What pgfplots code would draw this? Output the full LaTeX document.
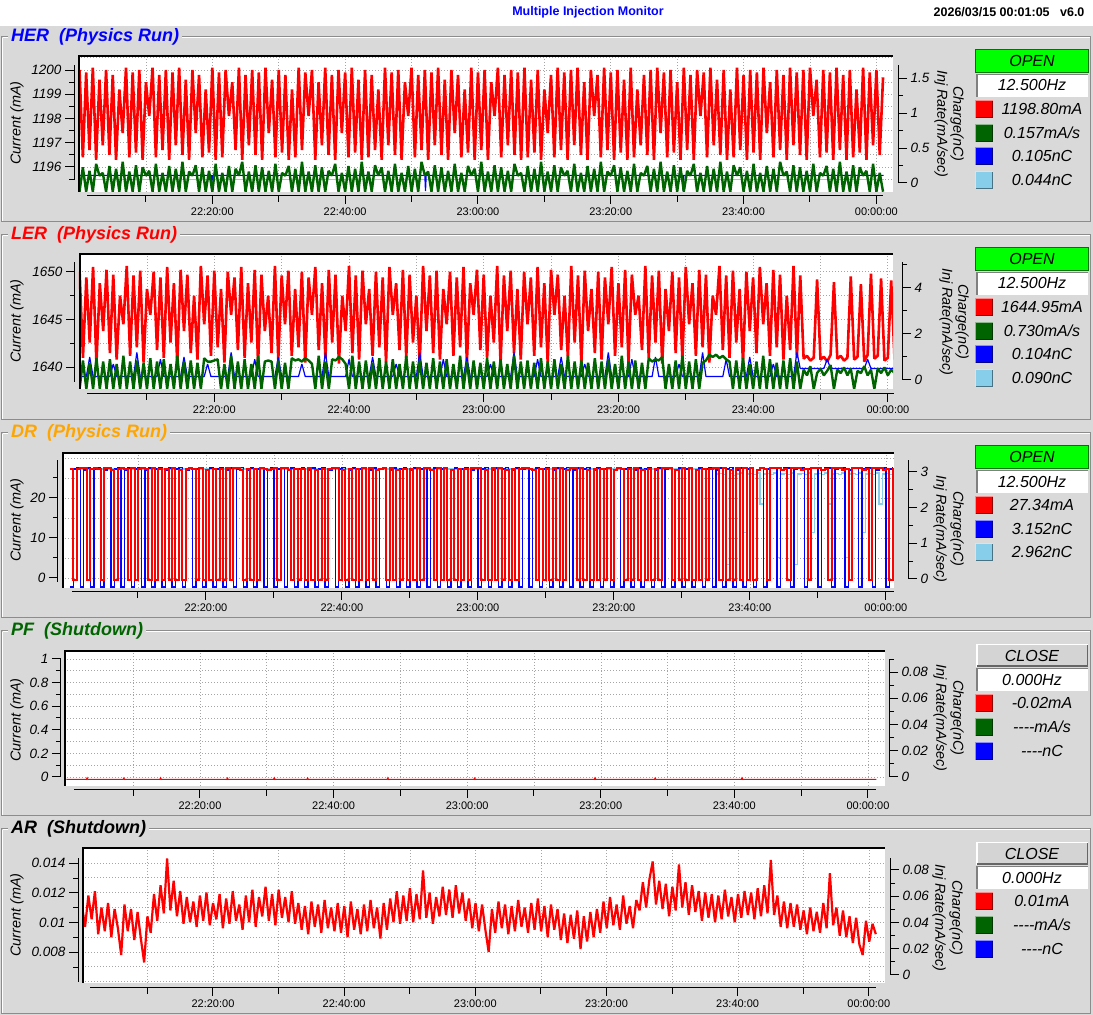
\documentclass[border=0pt]{standalone}
\usepackage{fontspec}
\setmainfont{Liberation Sans}
\usepackage{pgfplots}
\usepackage{pgfplotstable}
\pgfplotsset{compat=1.18}

\definecolor{bg}{RGB}{217,217,217}
\definecolor{dgreen}{RGB}{0,100,0}
\definecolor{lblue}{RGB}{135,206,235}
\definecolor{gridc}{RGB}{165,165,165}
\definecolor{edge}{RGB}{140,140,140}
\definecolor{openg}{RGB}{0,255,0}
\definecolor{closeg}{RGB}{212,212,212}
\definecolor{drorange}{RGB}{255,165,0}

\newcommand\tickf{\fontsize{13.5}{15}\selectfont\itshape}
\newcommand\xtickf{\fontsize{11}{12}\selectfont}
\newcommand\labf{\fontsize{14.4}{16}\selectfont\itshape}
\newcommand\titf{\fontsize{18}{20}\selectfont\bfseries\itshape}
\newcommand\statf{\fontsize{16}{18}\selectfont\itshape}
\newcommand\headf{\fontsize{12.5}{14}\selectfont\bfseries}

% t in minutes after 22:00
\pgfplotstableread{
t hR hG lR lG lB dR dB dL aR
0 1200 -0.13 1650 -0.39 0.15 27.3 -0.22 3.08 0.0112
0.5 1196.4 0.22 1641 0.85 0.15 -0.5 3.08 3.08 0.0097
1 1199.9 -0.13 1649.4 -0.39 0.15 27.2 3.12 3.08 0.0118
1.5 1196.7 0.17 1642.6 0.75 1.0 27.5 -0.22 3.08 0.0102
2 1200.1 -0.13 1650.5 -0.39 0.15 27.4 3.05 3.08 0.0121
2.5 1196.3 0.27 1640.4 0.95 0.15 -0.5 3.1 3.08 0.0092
3 1199.6 0.1 1648.8 -0.39 0.15 27.3 -0.22 3.08 0.0110
3.5 1196.9 0.14 1643.8 0.8 0.15 27.6 3.08 3.08 0.0094
4 1200 -0.13 1650.2 -0.39 0.15 27.2 3.12 3.08 0.0113
4.5 1196.5 0.24 1641.5 0.9 0.15 -0.5 -0.22 3.08 0.0090
5 1199.8 -0.13 1649.7 -0.39 0.7 27.5 3.05 3.08 0.0109
5.5 1196.3 0.2 1640.8 0.7 0.15 27.4 3.1 3.08 0.0096
6 1199.2 -0.13 1647.5 -0.39 0.15 27.1 -0.22 3.08 0.0078
6.5 1197.4 0.3 1644.5 1.05 0.15 -0.5 3.08 3.08 0.0112
7 1200.1 -0.13 1650.6 -0.39 0.15 27.3 3.12 3.08 0.0094
7.5 1196.4 0.16 1641.2 0.8 0.15 27.6 -0.22 3.08 0.0109
8 1199.9 -0.13 1649.6 -0.39 0.15 27.2 3.05 3.08 0.0088
8.5 1196.6 0.25 1642.1 0.85 1.2 -0.5 3.1 3.08 0.0107
9 1200 -0.13 1650.1 -0.39 0.15 27.5 -0.22 3.08 0.0089
9.5 1196.3 0.22 1640.5 0.75 0.15 -0.5 3.08 3.08 0.0073
10 1199.5 0.1 1648.2 -0.39 0.15 27.3 3.12 3.08 0.0104
10.5 1198.1 0.17 1645.5 0.95 0.15 27.4 -0.22 3.08 0.0093
11 1200.1 -0.13 1650 -0.39 0.15 27.2 3.05 3.08 0.0119
11.5 1196.4 0.27 1641.8 0.8 0.15 -0.5 3.1 3.08 0.0101
12 1199.8 -0.13 1649.4 -0.39 0.9 27.4 -0.22 3.08 0.0125
12.5 1196.7 0.14 1641 0.9 0.15 -0.5 3.08 3.08 0.0106
13 1200 -0.13 1650.5 -0.39 0.15 27.3 3.12 3.08 0.0143
13.5 1196.3 0.24 1642.6 0.7 0.15 -0.5 -0.22 3.08 0.0108
14 1199.9 -0.13 1648.8 -0.39 0.15 27.2 3.05 3.08 0.0128
14.5 1196.9 0.2 1640.4 1.05 0.15 -0.5 3.1 3.08 0.0104
15 1200.1 -0.13 1650.2 -0.39 0.15 27.5 -0.22 3.08 0.0121
15.5 1196.5 0.3 1643.8 0.8 1.0 -0.5 3.08 3.08 0.0099
16 1199.6 -0.13 1649.7 -0.39 0.15 27.1 3.12 3.08 0.0117
16.5 1196.3 0.16 1641.5 0.85 0.15 -0.5 -0.22 3.08 0.0100
17 1200 0.1 1647.5 -0.39 0.15 27.3 3.05 3.08 0.0114
17.5 1197.4 0.25 1640.8 0.75 0.15 27.4 3.1 3.08 0.0097
18 1199.8 -0.13 1650.6 -0.39 0.15 27.2 -0.22 3.08 0.0118
18.5 1196.4 0.22 1644.5 0.95 0.15 -0.5 3.08 3.08 0.0101
19 1199.2 -0.13 1649.6 0.8 0.7 27.5 3.12 3.08 0.0120
19.5 1196.6 0.17 1641.2 0.8 0.15 -0.5 -0.22 3.08 0.0098
20 1200.1 -0.13 1650.1 0.85 0.15 27.1 3.05 3.08 0.0113
20.5 1196.3 0.27 1642.1 0.9 0.15 -0.5 3.1 3.08 0.0102
21 1199.9 -0.13 1648.2 -0.39 0.15 27.3 -0.22 3.08 0.0119
21.5 1196.4 0.14 1640.5 0.7 0.15 -0.5 3.08 3.08 0.0096
22 1200 -0.13 1650 -0.39 0.15 27.2 3.12 3.08 0.0116
22.5 1198.1 0.24 1645.5 1.05 1.2 -0.5 -0.22 3.08 0.0099
23 1199.5 -0.13 1649.4 -0.39 0.15 27.5 3.05 3.08 0.0121
23.5 1196.7 0.2 1641.8 0.8 0.15 -0.5 3.1 3.08 0.0101
24 1200.1 0.1 1650.5 -0.39 0.15 27.4 -0.22 3.08 0.0112
24.5 1196.3 0.3 1641 0.9 0.15 27.4 3.08 3.08 0.0095
25 1199.8 -0.13 1648.8 -0.39 0.15 27.1 3.12 3.08 0.0118
25.5 1196.9 0.16 1642.6 0.7 0.15 -0.5 -0.22 3.08 0.0100
26 1200 -0.13 1650.2 -0.39 0.9 27.3 3.05 3.08 0.0122
26.5 1196.5 0.25 1640.4 1.05 0.15 -0.5 3.1 3.08 0.0097
27 1199.9 -0.13 1649.7 -0.39 0.15 27.2 -0.22 3.08 0.0117
27.5 1196.3 0.22 1643.8 0.8 0.15 -0.5 3.08 3.08 0.0104
28 1200.1 -0.13 1647.5 0.85 0.15 27.4 3.12 3.08 0.0124
28.5 1197.4 0.17 1641.5 0.8 0.15 27.3 -0.22 3.08 0.0101
29 1199.6 -0.13 1650.6 -0.39 0.15 27.1 3.05 3.08 0.0119
29.5 1196.4 0.27 1640.8 0.85 1.0 27.3 3.1 3.08 0.0098
30 1200 -0.13 1649.6 -0.39 0.15 27.6 -0.22 3.08 0.0122
30.5 1196.6 0.14 1644.5 0.75 0.15 -0.5 3.08 3.08 0.0103
31 1199.8 0.1 1650.1 -0.39 0.15 27.5 3.12 3.08 0.0117
31.5 1196.3 0.24 1641.2 0.95 0.15 27.4 -0.22 3.08 0.0100
32 1199.2 -0.13 1648.2 0.85 0.15 27.1 3.05 3.08 0.0121
32.5 1196.4 0.2 1642.1 0.9 0.15 -0.5 3.1 3.08 0.0099
33 1200.1 -0.13 1650 0.8 0.7 27.3 -0.22 3.08 0.0113
33.5 1196.7 0.3 1640.5 0.95 0.15 -0.5 3.08 3.08 0.0095
34 1199.9 -0.13 1649.4 0.85 0.15 27.2 3.12 3.08 0.0111
34.5 1198.1 0.16 1645.5 0.7 0.15 -0.5 -0.22 3.08 0.0092
35 1200 -0.13 1650.5 -0.39 0.15 27.5 3.05 3.08 0.0114
35.5 1196.3 0.25 1641.8 1.05 0.15 -0.5 3.1 3.08 0.0097
36 1199.5 -0.13 1648.8 -0.39 0.15 27.1 -0.22 3.08 0.0112
36.5 1196.9 0.22 1641 0.8 1.2 -0.5 3.08 3.08 0.0093
37 1200.1 -0.13 1650.2 -0.39 0.15 27.3 3.12 3.08 0.0115
37.5 1196.5 0.17 1642.6 0.9 0.15 -0.5 -0.22 3.08 0.0096
38 1199.8 0.1 1649.7 0.85 0.15 27.2 3.05 3.08 0.0110
38.5 1196.3 0.27 1640.4 1.0 0.15 27.4 3.1 3.08 0.0094
39 1200 -0.13 1647.5 0.9 0.15 27.5 -0.22 3.08 0.0113
39.5 1197.4 0.14 1643.8 0.7 0.15 -0.5 3.08 3.08 0.0093
40 1199.9 -0.13 1650.6 -0.39 0.9 27.1 3.12 3.08 0.0111
40.5 1196.4 0.24 1641.5 1.05 0.15 -0.5 -0.22 3.08 0.0090
41 1200.1 -0.13 1649.6 -0.39 0.15 27.3 3.05 3.08 0.0114
41.5 1196.6 0.2 1640.8 0.8 0.15 -0.5 3.1 3.08 0.0095
42 1199.6 -0.13 1650.1 -0.39 0.15 27.2 -0.22 3.08 0.0109
42.5 1196.3 0.3 1644.5 0.85 0.15 -0.5 3.08 3.08 0.0092
43 1200 -0.13 1648.2 -0.39 0.15 27.5 3.12 3.08 0.0112
43.5 1196.4 0.16 1641.2 0.75 1.0 -0.5 -0.22 3.08 0.0094
44 1199.8 -0.13 1650 -0.39 0.15 27.4 3.05 3.08 0.0115
44.5 1196.7 0.25 1642.1 0.95 0.15 -0.5 3.1 3.08 0.0096
45 1199.2 0.1 1649.4 -0.39 0.15 27.1 -0.22 3.08 0.0110
45.5 1196.3 0.22 1640.5 0.8 0.15 27.3 3.08 3.08 0.0089
46 1200.1 -0.13 1650.5 -0.39 0.15 27.6 3.12 3.08 0.0113
46.5 1196.9 0.17 1645.5 0.9 0.15 -0.5 -0.22 3.08 0.0095
47 1199.9 -0.13 1648.8 -0.39 0.7 27.5 3.05 3.08 0.0116
47.5 1196.5 0.27 1641.8 0.7 0.15 -0.5 3.1 3.08 0.0100
48 1200 -0.13 1650.2 -0.39 0.15 27.1 -0.22 3.08 0.0121
48.5 1196.3 0.14 1641 1.05 0.15 -0.5 3.08 3.08 0.0099
49 1199.5 -0.13 1649.7 -0.39 0.15 27.3 3.12 3.08 0.0118
49.5 1198.1 0.24 1642.6 0.8 0.15 -0.5 -0.22 3.08 0.0101
50 1200.1 -0.13 1647.5 -0.39 0.15 27.2 3.05 3.08 0.0123
50.5 1196.4 0.2 1640.4 0.85 1.2 -0.5 3.1 3.08 0.0100
51 1199.8 -0.13 1650.6 -0.39 0.15 27.5 -0.22 3.08 0.0119
51.5 1196.7 0.3 1643.8 0.75 0.15 -0.5 3.08 3.08 0.0102
52 1200 0.1 1649.6 -0.39 0.15 27.4 3.12 3.08 0.0135
52.5 1196.3 0.16 1641.5 0.95 0.15 27.4 -0.22 3.08 0.0103
53 1199.9 -0.13 1650.1 -0.39 0.15 27.1 3.05 3.08 0.0120
53.5 1196.9 0.25 1640.8 0.8 0.15 -0.5 3.1 3.08 0.0099
54 1200.1 -0.13 1648.2 -0.39 0.9 27.6 -0.22 3.08 0.0117
54.5 1196.5 0.22 1644.5 0.9 0.15 -0.5 3.08 3.08 0.0104
55 1199.6 -0.13 1650 -0.39 0.15 27.5 3.12 3.08 0.0124
55.5 1196.3 0.17 1641.2 0.7 0.15 -0.5 -0.22 3.08 0.0105
56 1200 -0.13 1649.4 -0.39 0.15 27.1 3.05 3.08 0.0122
56.5 1197.4 0.27 1642.1 1.05 0.15 -0.5 3.1 3.08 0.0103
57 1199.8 -0.13 1650.5 -0.39 0.15 27.3 -0.22 3.08 0.0125
57.5 1196.4 0.14 1640.5 0.8 1.0 -0.5 3.08 3.08 0.0106
58 1199.2 -0.13 1648.8 -0.39 0.15 27.2 3.12 3.08 0.0120
58.5 1196.6 0.24 1645.5 0.85 0.15 -0.5 -0.22 3.08 0.0101
59 1200.1 0.1 1650.2 -0.39 0.15 27.5 3.05 3.08 0.0116
59.5 1196.3 0.2 1641.8 0.75 0.15 27.4 3.1 3.08 0.0096
60 1199.9 -0.13 1649.7 -0.39 0.15 27.4 -0.22 3.08 0.0113
60.5 1196.7 0.3 1641 0.95 0.15 -0.5 3.08 3.08 0.0094
61 1200 -0.13 1647.5 -0.39 0.7 27.1 3.12 3.08 0.0112
61.5 1196.3 0.16 1642.6 0.8 0.15 -0.5 -0.22 3.08 0.0095
62 1199.5 -0.13 1650.6 -0.39 0.15 27.6 3.05 3.08 0.0080
62.5 1198.1 0.25 1640.4 0.9 0.15 -0.5 3.1 3.08 0.0109
63 1200.1 -0.13 1649.6 -0.39 0.15 27.5 -0.22 3.08 0.0093
63.5 1196.4 0.22 1643.8 0.7 0.15 -0.5 3.08 3.08 0.0114
64 1199.8 -0.13 1650.1 -0.39 0.15 27.1 3.12 3.08 0.0096
64.5 1196.9 0.17 1641.5 1.05 1.2 -0.5 -0.22 3.08 0.0112
65 1200 -0.13 1648.2 -0.39 0.15 27.3 3.05 3.08 0.0092
65.5 1196.5 0.27 1640.8 0.8 0.15 -0.5 3.1 3.08 0.0111
66 1199.9 0.1 1650 -0.39 0.15 27.2 -0.22 3.08 0.0094
66.5 1196.3 0.14 1644.5 0.85 0.15 27.4 3.08 3.08 0.0115
67 1200.1 -0.13 1649.4 -0.39 0.15 27.5 3.12 3.08 0.0097
67.5 1196.4 0.24 1641.2 0.75 0.15 27.3 -0.22 3.08 0.0110
68 1199.6 -0.13 1650.5 -0.39 0.9 27.1 3.05 3.08 0.0093
68.5 1196.6 0.2 1642.1 0.95 0.15 -0.5 3.1 3.08 0.0113
69 1200 -0.13 1648.8 -0.39 0.15 27.3 -0.22 3.08 0.0095
69.5 1196.3 0.3 1640.5 0.8 0.15 -0.5 3.08 3.08 0.0116
70 1199.2 -0.13 1650.2 -0.39 0.15 27.2 3.12 3.08 0.0094
70.5 1197.4 0.16 1645.5 0.9 0.15 -0.5 -0.22 3.08 0.0111
71 1199.8 -0.13 1649.7 -0.39 0.15 27.5 3.05 3.08 0.0090
71.5 1196.4 0.25 1641.8 0.7 1.0 -0.5 3.1 3.08 0.0112
72 1200.1 -0.13 1647.5 -0.39 0.15 27.4 -0.22 3.08 0.0095
72.5 1196.7 0.22 1641 1.05 0.15 -0.5 3.08 3.08 0.0109
73 1199.9 0.1 1650.6 -0.39 0.15 27.1 3.12 3.08 0.0088
73.5 1196.3 0.17 1642.6 0.8 0.15 27.4 -0.22 3.08 0.0106
74 1200 -0.13 1649.6 -0.39 0.15 27.6 3.05 3.08 0.0086
74.5 1196.9 0.27 1640.4 0.85 0.15 -0.5 3.1 3.08 0.0105
75 1200.1 -0.13 1650.1 -0.39 0.7 27.5 -0.22 3.08 0.0089
75.5 1196.5 0.14 1643.8 0.75 0.15 -0.5 3.08 3.08 0.0108
76 1199.5 -0.13 1648.2 -0.39 0.15 27.1 3.12 3.08 0.0082
76.5 1196.3 0.24 1641.5 0.95 0.15 -0.5 -0.22 3.08 0.0104
77 1200 -0.13 1650 -0.39 0.15 27.3 3.05 3.08 0.0087
77.5 1198.1 0.2 1640.8 0.8 0.15 -0.5 3.1 3.08 0.0107
78 1199.8 -0.13 1649.4 -0.39 0.15 27.2 -0.22 3.08 0.0090
78.5 1196.4 0.3 1644.5 0.9 1.2 -0.5 3.08 3.08 0.0109
79 1200.1 -0.13 1650.5 -0.39 0.15 27.5 3.12 3.08 0.0093
79.5 1196.7 0.16 1641.2 0.7 0.15 -0.5 -0.22 3.08 0.0114
80 1199.9 0.1 1648.8 -0.39 0.15 27.1 3.05 3.08 0.0096
80.5 1196.3 0.25 1642.1 1.05 0.15 27.4 3.1 3.08 0.0117
81 1200 -0.13 1650.2 -0.39 0.15 27.3 -0.22 3.08 0.0098
81.5 1196.6 0.22 1640.5 0.8 0.15 -0.5 3.08 3.08 0.0112
82 1199.6 -0.13 1649.7 -0.39 0.9 27.2 3.12 3.08 0.0095
82.5 1196.3 0.17 1645.5 0.85 0.15 -0.5 -0.22 3.08 0.0118
83 1200.1 -0.13 1647.5 -0.39 0.15 27.5 3.05 3.08 0.0099
83.5 1196.4 0.27 1641.8 0.75 0.15 -0.5 3.1 3.08 0.0111
84 1199.2 -0.13 1650.6 -0.39 0.15 27.1 -0.22 3.08 0.0096
84.5 1196.9 0.14 1641 0.95 0.15 -0.5 3.08 3.08 0.0115
85 1199.8 0.1 1649.6 0.8 0.15 27.3 3.12 3.08 0.0108
85.5 1196.5 0.24 1642.6 0.9 1.0 -0.5 -0.22 3.08 0.0127
86 1200 -0.13 1650.1 0.85 0.15 27.2 3.05 3.08 0.0110
86.5 1196.3 0.2 1640.4 1.0 0.15 -0.5 3.1 3.08 0.0129
87 1200.1 -0.13 1648.2 -0.39 0.15 27.5 -0.22 3.08 0.0141
87.5 1197.4 0.3 1643.8 0.7 0.15 27.4 3.08 3.08 0.0112
88 1199.9 -0.13 1650 -0.39 0.15 27.4 3.12 3.08 0.0128
88.5 1196.4 0.16 1641.5 0.85 0.15 -0.5 -0.22 3.08 0.0109
89 1200 -0.13 1649.4 -0.39 0.7 27.1 3.05 3.08 0.0126
89.5 1196.6 0.25 1640.8 1.05 0.15 -0.5 3.1 3.08 0.0104
90 1199.5 -0.13 1650.5 -0.39 0.15 27.6 -0.22 3.08 0.0124
90.5 1196.3 0.22 1644.5 0.8 0.15 -0.5 3.08 3.08 0.0108
91 1200.1 -0.13 1648.8 -0.39 0.15 27.5 3.12 3.08 0.0139
91.5 1196.7 0.17 1641.2 0.9 0.15 -0.5 -0.22 3.08 0.0110
92 1199.8 0.1 1650.2 -0.39 0.15 27.1 3.05 3.08 0.0127
92.5 1196.3 0.27 1642.1 0.75 1.2 -0.5 3.1 3.08 0.0105
93 1200 -0.13 1649.7 0.85 0.15 27.3 -0.22 3.08 0.0125
93.5 1198.1 0.14 1640.5 1.1 0.15 -0.5 3.08 3.08 0.0107
94 1199.9 -0.13 1647.5 1.0 0.15 27.2 3.12 3.08 0.0121
94.5 1196.4 0.24 1645.5 1.1 0.15 27.4 -0.22 3.08 0.0101
95 1200.1 -0.13 1650.6 0.95 0.15 27.5 3.05 2.93 0.0120
95.5 1196.9 0.2 1641.8 1.05 0.15 -0.5 3.1 2.95 0.0103
96 1199.6 -0.13 1649.6 0.9 0.9 27.4 -0.22 2.92 0.0119
96.5 1196.5 0.3 1641 0.8 0.15 -0.5 3.08 0.4 0.0100
97 1200 -0.13 1650.1 -0.39 0.15 27.1 3.12 2.95 0.0118
97.5 1196.3 0.16 1642.6 0.85 0.15 -0.5 -0.22 2.9 0.0102
98 1199.2 -0.13 1648.2 -0.39 0.15 27.6 3.05 2.94 0.0122
98.5 1196.4 0.25 1640.4 0.95 0.15 -0.5 3.1 2.96 0.0104
99 1200.1 0.1 1650 -0.39 0.15 27.5 -0.22 1.3 0.0117
99.5 1196.7 0.22 1643.8 0.7 1.0 -0.5 3.08 2.93 0.0100
100 1199.8 -0.13 1649.4 -0.39 0.15 27.4 3.12 2.95 0.0119
100.5 1196.3 0.17 1641.5 0.8 0.15 -0.5 -0.22 2.92 0.0103
101 1200 -0.13 1650.5 -0.39 0.15 27.1 3.05 2.96 0.0121
101.5 1196.6 0.27 1644.5 1.05 0.15 27.4 3.1 2.1 0.0105
102 1199.9 -0.13 1648.8 -0.39 0.15 27.3 -0.22 2.94 0.0120
102.5 1196.3 0.14 1641.2 0.9 0.15 -0.5 3.08 2.95 0.0102
103 1200.1 -0.13 1650.2 -0.39 0.7 27.6 3.12 2.92 0.0123
103.5 1197.4 0.24 1642.1 0.75 0.15 27.5 3.1 2.96 0.0104
104 1199.5 -0.13 1649.7 -0.39 0.15 27.4 -0.22 0.6 0.0125
104.5 1196.4 0.2 1640.8 0.85 0.15 27.1 3.05 2.93 0.0106
105 1200 -0.13 1647.5 -0.39 0.15 27.3 3.12 2.95 0.0142
105.5 1196.7 0.3 1641.8 0.95 0.15 -0.5 3.1 2.92 0.0105
106 1199.8 0.1 1650.6 -0.39 0.15 27.6 -0.22 2.96 0.0118
106.5 1196.3 0.16 1641 0.8 1.2 27.5 3.08 0.4 0.0097
107 1200.1 -0.13 1649.6 -0.39 0.5 27.4 3.12 2.93 0.0114
107.5 1196.9 0.25 1640.9 0.45 0.5 27.1 3.1 2.95 0.0096
108 1199.9 -0.13 1641.2 0.2 0.5 27.3 -0.22 2.92 0.0113
108.5 1196.5 0.22 1640.7 0.6 0.5 -0.5 3.08 2.96 0.0097
109 1200 -0.13 1641 -0.39 0.5 27.6 3.12 1.3 0.0112
109.5 1196.3 0.17 1649.2 0.3 0.5 27.5 3.1 2.93 0.0095
110 1200.1 -0.13 1640.8 0.5 0.5 27.4 -0.22 2.95 0.0108
110.5 1198.1 0.27 1641.1 0.2 0.5 27.1 3.05 2.92 0.0092
111 1199.6 -0.13 1640.6 0.4 0.9 27.3 3.12 2.96 0.0110
111.5 1196.4 0.14 1641.3 0.65 0.5 -0.5 3.1 2.1 0.0094
112 1200 0.1 1648.9 -0.39 0.5 27.6 -0.22 2.93 0.0107
112.5 1196.6 0.24 1640.9 0.45 0.5 27.5 3.08 2.95 0.0093
113 1199.9 -0.13 1641.2 0.3 0.5 27.4 3.12 2.92 0.0113
113.5 1196.3 0.2 1640.7 0.55 0.5 27.1 3.1 2.96 0.0096
114 1200.1 -0.13 1641 0.2 0.5 27.3 -0.22 0.6 0.0133
114.5 1196.7 0.3 1649.5 0.5 0.5 -0.5 3.05 2.93 0.0098
115 1199.8 -0.13 1640.8 -0.39 0.5 27.6 3.12 2.95 0.0110
115.5 1196.3 0.16 1641.1 0.4 0.5 27.5 3.1 2.92 0.0091
116 1200 -0.13 1648.7 0.3 0.5 27.4 -0.22 2.96 0.0108
116.5 1196.4 0.25 1640.6 0.6 0.5 27.1 3.08 1.3 0.0090
117 1199.2 -0.13 1641.3 0.2 0.9 27.3 3.12 2.93 0.0104
117.5 1196.6 0.22 1649.8 0.45 0.5 -0.5 3.1 2.95 0.0086
118 1200.1 0.1 1640.9 -0.39 0.5 27.6 -0.22 2.92 0.0103
118.5 1196.3 0.17 1641.2 0.5 0.5 27.5 3.05 2.96 0.0085
119 1199.9 -0.13 1649.3 0.3 0.5 27.4 3.12 2.1 0.0078
119.5 1196.9 0.27 1640.7 0.55 0.5 27.1 3.1 2.93 0.0101
120 1200 -0.13 1641 0.2 0.5 27.3 -0.22 2.95 0.0087
120.5 1196.5 0.14 1649.1 0.45 0.5 -0.5 3.08 2.92 0.0099
121 1199.7 -0.13 1640.8 0.3 0.5 27.4 3.12 2.96 0.0092
}\runs

\pgfplotsset{
  gridax/.style={scale only axis, anchor=south west, clip=true,
    axis line style={draw=none}, tick style={draw=none}, major tick length=0pt,
    scaled x ticks=false, scaled y ticks=false,
    xtick={10,20,...,120}, xticklabels={}, yticklabels={},
    grid=major, grid style={draw=gridc, line width=0.8pt, dash pattern=on 1pt off 2pt}},
  overax/.style={scale only axis, anchor=south west, clip=true, hide axis},
  dat/.style={line join=bevel},
  spine/.style={scale only axis, axis line style={-, black, line width=1pt},
    scaled x ticks=false, scaled y ticks=false,
    tick style={black, line width=1pt}, tick align=outside,
    major tick length=9pt, minor tick length=5pt,
    tick label style={font=\tickf}, /pgf/number format/assume math mode=true},
  lsp/.style={spine, anchor=south west, width=6pt, xmin=0, xmax=1,
    axis x line=none, axis y line*=left, xtick=\empty},
  rsp/.style={spine, anchor=south east, width=6pt, xmin=0, xmax=1,
    axis x line=none, axis y line*=right, xtick=\empty},
  xsp/.style={spine, anchor=south west, height=4pt, ymin=0, ymax=1,
    axis y line=none, axis x line*=bottom, ytick=\empty,
    major tick length=8pt, minor tick length=6pt,
    xtick={20,40,...,120}, minor xtick={10,30,...,110},
    xticklabels={22:20:00,22:40:00,23:00:00,23:20:00,23:40:00,00:00:00},
    xticklabel style={font=\xtickf}},
}

% decorations, in pixel coordinates with y downwards
\newcommand\frameP[3]{%
  \draw[edge, line width=1pt] (1.5,#1) rectangle (1090.5,{#1+185});
  \draw[white, line width=1pt] (2.5,{#1+1}) -- (1089.5,{#1+1});
  \draw[white, line width=1pt] (2.5,{#1+1}) -- (2.5,{#1+184});
  \node[anchor=west, fill=bg, inner xsep=3pt, inner ysep=1pt, text=#3, font=\titf] at (8,#1) {#2};}
\newcommand\hzbox[2]{%
  \fill[white] (976,{#1}) rectangle (1088,{#1+23});
  \draw[gray, line width=1.5pt] (976.75,{#1+23}) -- (976.75,{#1+0.75}) -- (1088,{#1+0.75});
  \node[font=\statf] at (1032,{#1+11.5}) {#2};}
\newcommand\stOpen[2]{%
  \fill[openg] (975,#1) rectangle (1089,{#1+24});
  \draw[green!45!black, line width=1pt] (975.5,{#1+0.5}) rectangle (1088.5,{#1+23.5});
  \node[font=\statf] at (1032,{#1+12}) {OPEN};
  \hzbox{#1+25}{#2}}
\newcommand\stClose[2]{%
  \fill[closeg] (976,#1) rectangle (1088,{#1+23});
  \draw[white, line width=1.5pt] (976.75,{#1+23}) -- (976.75,{#1+0.75}) -- (1088,{#1+0.75});
  \draw[gray!80!black, line width=1.5pt] (976.75,{#1+22.25}) -- (1087.25,{#1+22.25}) -- (1087.25,{#1+0.75});
  \node[font=\statf] at (1032,{#1+11.5}) {CLOSE};
  \hzbox{#1+24}{#2}}
\newcommand\lrow[3]{%
  \fill[#2] (975,{#1-9}) rectangle (993,{#1+9});
  \draw[#2!45!white, line width=1.2pt] (975.6,{#1+9}) -- (975.6,{#1-8.4}) -- (993,{#1-8.4});
  \draw[#2!55!black, line width=1.2pt] (975.6,{#1+8.4}) -- (992.4,{#1+8.4}) -- (992.4,{#1-8.4});
  \node[font=\statf] at (1042,#1) {#3};}
\newcommand\ylabs[4]{%
  \node[rotate=90, font=\labf] at (17,#1) {Current (mA)};
  \node[rotate=-90, font=\labf] at (#2,#4) {Inj Rate(mA/sec)};
  \node[rotate=-90, font=\labf] at (#3,#4) {Charge(nC)};}
\newcommand\wbox[4]{\fill[white] (#1,#2) rectangle (#3,#4);}
\newcommand\bedge[4]{\draw[black, line width=2pt] ({#1+1},#4) -- ({#1+1},{#2+1}) -- (#3,{#2+1});}
\newcommand\dashes{-{}-{}-{}-}

\begin{document}
\begin{tikzpicture}
\path[use as bounding box, fill=bg] (0pt,0pt) rectangle (1093pt,1015pt);
\begin{scope}[shift={(0pt,1015pt)}, x=1pt, y=-1pt]
  \fill[white] (0,0) rectangle (1093,26);
  \node[font=\headf, text=blue] at (588,12.5) {Multiple Injection Monitor};
  \node[font=\headf, anchor=east] at (1088,12.5) {2026/03/15 00:01:05\ \ \ v6.0};
  \frameP{37}{HER\ \ (Physics Run)}{blue}
  \frameP{235}{LER\ \ (Physics Run)}{red}
  \frameP{433}{DR\ \ (Physics Run)}{drorange}
  \frameP{631}{PF\ \ (Shutdown)}{dgreen}
  \frameP{829}{AR\ \ (Shutdown)}{black}
  \wbox{78}{55}{893}{192}
  \wbox{79}{253}{893}{389}
  \wbox{62}{452}{894}{588}
  \wbox{64}{650}{885}{786}
  \wbox{82}{847}{885}{983}
  % status panels
  \stOpen{49}{12.500Hz}
  \lrow{109}{red}{1198.80mA}
  \lrow{133}{dgreen}{0.157mA/s}
  \lrow{156}{blue}{0.105nC}
  \lrow{180}{lblue}{0.044nC}
  \stOpen{247}{12.500Hz}
  \lrow{307}{red}{1644.95mA}
  \lrow{331}{dgreen}{0.730mA/s}
  \lrow{354}{blue}{0.104nC}
  \lrow{378}{lblue}{0.090nC}
  \stOpen{445}{12.500Hz}
  \lrow{505}{red}{27.34mA}
  \lrow{529}{blue}{3.152nC}
  \lrow{552}{lblue}{2.962nC}
  \stClose{644}{0.000Hz}
  \lrow{703}{red}{-0.02mA}
  \lrow{727}{dgreen}{\dashes mA/s}
  \lrow{751}{blue}{\dashes nC}
  \stClose{842}{0.000Hz}
  \lrow{901}{red}{0.01mA}
  \lrow{925}{dgreen}{\dashes mA/s}
  \lrow{949}{blue}{\dashes nC}
  % axis titles
  \ylabs{123}{941}{957}{124}
  \ylabs{321}{946}{962}{322}
  \ylabs{520}{940}{957}{529}
  \ylabs{720}{940}{957}{718}
  \ylabs{915}{939}{956}{918}
\end{scope}

%%%%% HER
\begin{axis}[gridax, at={(78pt,823pt)}, width=815pt, height=137pt,
  xmin=-0.23, xmax=122.5, ymin=1194.97, ymax=1200.62, ytick={1195.5,1196,...,1200.5}]
  \addplot[dat, red, line width=2.6pt] table[x=t, y=hR] {\runs};
\end{axis}
\begin{axis}[overax, at={(78pt,823pt)}, width=815pt, height=137pt,
  xmin=-0.23, xmax=122.5, ymin=-0.134, ymax=1.835]
  \addplot[lblue, line width=1.2pt] coordinates {(0,0.044) (121.1,0.044)};
  \addplot[blue, line width=1.2pt] coordinates {(0,0.105) (19.8,0.105) (19.9,-0.12) (20,0.105) (52,0.105) (52.1,-0.12) (52.2,0.105) (90.8,0.105) (90.9,-0.12) (91,0.105) (121.1,0.105)};
  \addplot[dat, dgreen, line width=2.4pt] table[x=t, y=hG] {\runs};
\end{axis}
\begin{axis}[lsp, at={(74pt,835pt)}, height=115pt, ymin=1195.46, ymax=1200.21,
  ytick={1196,1197,1198,1199,1200}, yticklabels={1196,1197,1198,1199,1200},
  minor ytick={1195.5,1196.5,1197.5,1198.5,1199.5}]
\end{axis}
\begin{axis}[rsp, at={(898pt,832pt)}, height=118pt, ymin=0, ymax=1.69,
  ytick={0,0.5,1,1.5}, yticklabels={0,0.5,1,1.5}, minor ytick={0.25,0.75,1.25}]
\end{axis}
\begin{axis}[xsp, at={(87pt,819pt)}, width=796pt, xmin=1.13, xmax=121.0]
\end{axis}

%%%%% LER
\begin{axis}[gridax, at={(79pt,626pt)}, width=814pt, height=136pt,
  xmin=-0.09, xmax=120.77, ymin=1637.73, ymax=1651.96, ytick={1640,1642.5,1645,1647.5,1650}]
  \addplot[dat, red, line width=2.6pt] table[x=t, y=lR] {\runs};
\end{axis}
\begin{axis}[overax, at={(79pt,626pt)}, width=814pt, height=136pt,
  xmin=-0.09, xmax=120.77, ymin=-0.39, ymax=5.52]
  \addplot[dat, blue, line width=1.2pt] table[x=t, y=lB] {\runs};
  \addplot[dat, dgreen, line width=2.4pt] table[x=t, y=lG] {\runs};
\end{axis}
\begin{axis}[lsp, at={(75pt,633pt)}, height=120pt, ymin=1638.46, ymax=1651.01,
  ytick={1640,1645,1650}, yticklabels={1640,1645,1650}, minor ytick={1642.5,1647.5}]
\end{axis}
\begin{axis}[rsp, at={(902pt,635pt)}, height=118pt, ymin=0, ymax=5.13,
  ytick={0,2,4}, yticklabels={0,2,4}, minor ytick={1,3,5}]
\end{axis}
\begin{axis}[xsp, at={(87pt,621pt)}, width=807pt, xmin=1.1, xmax=120.9]
\end{axis}

%%%%% DR
\begin{axis}[gridax, at={(62pt,427pt)}, width=832pt, height=136pt,
  xmin=-1.18, xmax=121.18, ymin=-2.5, ymax=31.5, ytick={0,5,...,30}]
\end{axis}
\begin{axis}[overax, at={(62pt,427pt)}, width=832pt, height=136pt,
  xmin=-1.18, xmax=121.18, ymin=-0.25, ymax=3.55]
  \addplot[const plot, lblue, line width=1.4pt] table[x=t, y=dL] {\runs};
  \addplot[const plot, blue, line width=1.4pt] table[x=t, y=dB] {\runs};
\end{axis}
\begin{axis}[overax, at={(62pt,427pt)}, width=832pt, height=136pt,
  xmin=-1.18, xmax=121.18, ymin=-2.5, ymax=31.5]
  \addplot[const plot, red, line width=2pt] table[x=t, y=dR] {\runs};
\end{axis}
\begin{axis}[lsp, at={(58pt,433pt)}, height=122pt, ymin=-1, ymax=29.5,
  ytick={0,10,20}, yticklabels={0,10,20}, minor ytick={5,15,25}]
\end{axis}
\begin{axis}[rsp, at={(908pt,436pt)}, height=119pt, ymin=0, ymax=3.32,
  ytick={0,1,2,3}, yticklabels={0,1,2,3}, minor ytick={0.5,1.5,2.5}]
\end{axis}
\begin{axis}[xsp, at={(72pt,423pt)}, width=822pt, xmin=0.3, xmax=121.2]
\end{axis}

%%%%% PF
\begin{axis}[gridax, at={(64pt,229pt)}, width=821pt, height=136pt,
  xmin=-0.36, xmax=122.5, ymin=-0.076, ymax=1.076, ytick={0,0.1,...,1.0}]
  \addplot[red, line width=1.2pt] coordinates {(0,-0.02) (3,-0.02) (3.1,-0.008) (3.2,-0.02) (8.5,-0.02) (8.6,-0.01) (8.7,-0.02)
    (14,-0.02) (14.1,-0.008) (14.2,-0.02) (24,-0.02) (24.1,-0.01) (24.2,-0.02) (31,-0.02) (31.1,-0.008) (31.2,-0.02)
    (36,-0.02) (36.1,-0.01) (36.2,-0.02) (48,-0.02) (48.1,-0.008) (48.2,-0.02) (61,-0.02) (61.1,-0.01) (61.2,-0.02)
    (79,-0.02) (79.1,-0.008) (79.2,-0.02) (88,-0.02) (88.1,-0.01) (88.2,-0.02) (101,-0.02) (101.1,-0.008) (101.2,-0.02)
    (121.2,-0.02)};
\end{axis}
\begin{axis}[lsp, at={(61pt,238pt)}, height=118pt, ymin=0, ymax=1,
  ytick={0,0.2,0.4,0.6,0.8,1}, yticklabels={0,0.2,0.4,0.6,0.8,1}, minor ytick={0.1,0.3,0.5,0.7,0.9}]
\end{axis}
\begin{axis}[rsp, at={(889pt,238pt)}, height=118pt, ymin=0, ymax=0.09,
  ytick={0,0.02,0.04,0.06,0.08}, yticklabels={0,0.02,0.04,0.06,0.08}, minor ytick={0.01,0.03,0.05,0.07,0.09}]
\end{axis}
\begin{axis}[xsp, at={(74pt,225pt)}, width=802pt, xmin=1.14, xmax=121.2]
\end{axis}

%%%%% AR
\begin{axis}[gridax, at={(82pt,32pt)}, width=803pt, height=136pt,
  xmin=0.03, xmax=122.4, ymin=0.005912, ymax=0.015071,
  ytick={0.006,0.007,0.008,0.009,0.010,0.011,0.012,0.013,0.014,0.015}]
  \addplot[dat, red, line width=2.2pt] table[x=t, y=aR] {\runs};
\end{axis}
\begin{axis}[lsp, at={(78pt,33pt)}, height=124pt, ymin=0.006, ymax=0.01436,
  ytick={0.008,0.010,0.012,0.014}, yticklabels={0.008,0.01,0.012,0.014}, minor ytick={0.007,0.009,0.011,0.013}]
\end{axis}
\begin{axis}[rsp, at={(890pt,40pt)}, height=117pt, ymin=0, ymax=0.0891,
  ytick={0,0.02,0.04,0.06,0.08}, yticklabels={0,0.02,0.04,0.06,0.08}, minor ytick={0.01,0.03,0.05,0.07}]
\end{axis}
\begin{axis}[xsp, at={(90pt,27pt)}, width=786pt, xmin=1.25, xmax=121.1]
\end{axis}

\begin{scope}[shift={(0pt,1015pt)}, x=1pt, y=-1pt]
  \bedge{78}{55}{893}{192}
  \bedge{79}{253}{893}{389}
  \bedge{62}{452}{894}{588}
  \bedge{64}{650}{885}{786}
  \bedge{82}{847}{885}{983}
\end{scope}
\end{tikzpicture}
\end{document}
